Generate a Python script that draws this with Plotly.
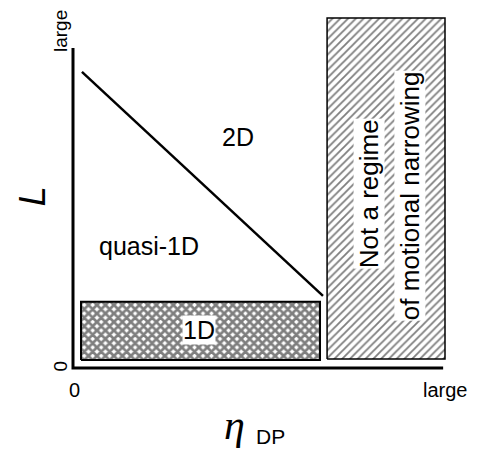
import plotly.graph_objects as go

# ---- data (schematic units: eta_DP on x, L on y, 0..10) ----
boundary_x = [0.24, 6.72]          # quasi-1D / 2D boundary line
boundary_y = [8.46, 2.06]
oned_x = [0.215, 6.64]             # 1D region (cross-hatched)
oned_y = [0.23, 1.89]
nonmn_x = [6.83, 10.0]             # not motional narrowing region
nonmn_y = [0.26, 10.0]
axis_x_end = 9.95
axis_y_end = 9.14

x_tick_vals = [0.05, 10.0]
x_tick_text = ["0", "large"]
y_tick_vals = [0.06, 9.62]
y_tick_text = ["0", "large"]

region_labels = ["2D", "quasi-1D"]
region_x = [4.44, 2.04]
region_y = [6.6, 3.49]

FONT = "Liberation Sans, Arial, sans-serif"

XR = [-0.2688, 10.2688]
YR = [-0.2857, 10.2857]

def to_paper(x, y):
    return (x - XR[0]) / (XR[1] - XR[0]), (y - YR[0]) / (YR[1] - YR[0])

def rect(xs, ys):
    return [xs[0], xs[1], xs[1], xs[0], xs[0]], [ys[0], ys[0], ys[1], ys[1], ys[0]]

fig = go.Figure()

rx, ry = rect(oned_x, oned_y)
fig.add_trace(go.Scatter(x=rx, y=ry, mode="lines", fill="toself",
                         fillcolor="white",
                         fillpattern=dict(shape="x", size=6, solidity=0.7,
                                          fgcolor="black", bgcolor="white"),
                         line=dict(color="black", width=2), hoverinfo="skip"))
rx, ry = rect(nonmn_x, nonmn_y)
fig.add_trace(go.Scatter(x=rx, y=ry, mode="lines", fill="toself",
                         fillcolor="white",
                         fillpattern=dict(shape="/", size=5.5, solidity=0.33,
                                          fgcolor="black", bgcolor="white"),
                         line=dict(color="black", width=1.5), hoverinfo="skip"))
fig.add_trace(go.Scatter(x=boundary_x, y=boundary_y, mode="lines",
                         line=dict(color="black", width=2.5), hoverinfo="skip"))
fig.add_trace(go.Scatter(x=[0, 0, axis_x_end], y=[axis_y_end, 0, 0], mode="lines",
                         line=dict(color="black", width=3), hoverinfo="skip"))

ann = []
def add(x, y, text, size, family=FONT, **kw):
    px, py = to_paper(x, y)
    ann.append(dict(x=px, y=py, xref="paper", yref="paper", text=text,
                    xanchor="center", yanchor="middle",
                    showarrow=False, font=dict(family=family, size=size, color="black"),
                    **kw))

for t, x, y in zip(region_labels, region_x, region_y):
    add(x, y, t, 25)
add(3.39, 1.086, "1D", 25, bgcolor="white", borderpad=0)
add(7.96, 4.97, "Not a regime", 26, textangle=-90, bgcolor="white", borderpad=0)
add(9.06, 4.91, "of motional narrowing", 26, textangle=-90, bgcolor="white", borderpad=0)
for t, x in zip(x_tick_text, x_tick_vals):
    add(x, -0.63, t, 20)
for t, y in zip(y_tick_text, y_tick_vals):
    add(-0.33, y, t, 19, textangle=-90)
add(-1.10, 4.91, "<i>L</i>", 36, textangle=-90)
add(4.35, -1.64, "<i>η</i>", 42, family="Liberation Serif, serif")
add(5.30, -1.97, "DP", 21)

fig.update_layout(
    width=479, height=453,
    margin=dict(l=55, r=32, t=0, b=83),
    plot_bgcolor="white", paper_bgcolor="white",
    showlegend=False,
    xaxis=dict(range=XR, visible=False, fixedrange=True),
    yaxis=dict(range=YR, visible=False, fixedrange=True),
    annotations=ann,
)

fig.write_html("out.html")
